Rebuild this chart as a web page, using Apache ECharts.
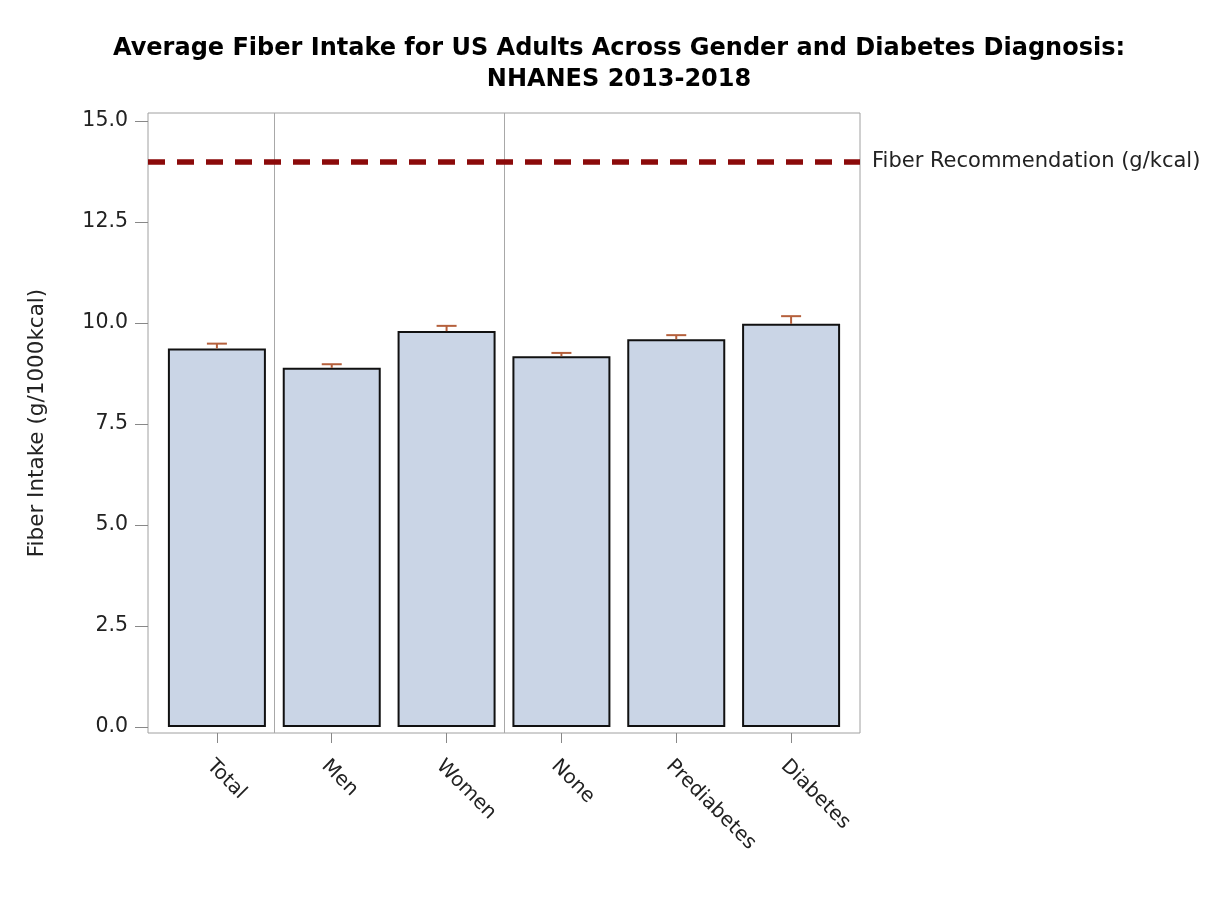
<!DOCTYPE html>
<html>
<head>
<meta charset="utf-8">
<script src="https://cdn.jsdelivr.net/npm/echarts@6/dist/echarts.min.js"></script>
<style>
html,body{margin:0;padding:0;background:#fff;}
#chart{width:1225px;height:923px;}
</style>
</head>
<body>
<div id="chart"></div>
<script>
const categories = ['Total', 'Men', 'Women', 'None', 'Prediabetes', 'Diabetes'];
const meanIntake = [9.37, 8.89, 9.80, 9.18, 9.60, 9.98];
const upperLimit = [9.49, 8.98, 9.93, 9.26, 9.70, 10.17];
const recommendation = 14;
const groupSeparators = [0.5, 2.5];
const yTickValues = [0, 2.5, 5, 7.5, 10, 12.5, 15];
const xTickValues = [0, 1, 2, 3, 4, 5];

const FONT = "'DejaVu Sans', sans-serif";
const chart = echarts.init(document.getElementById('chart'), null, {renderer: 'canvas'});

const barData = categories.map((c, i) => [i, meanIntake[i]]);
const errData = categories.map((c, i) => [i, meanIntake[i], upperLimit[i]]);

const option = {
  backgroundColor: '#ffffff',
  animation: false,
  textStyle: {fontFamily: FONT},
  title: {
    text: 'Average Fiber Intake for US Adults Across Gender and Diabetes Diagnosis:\nNHANES 2013-2018',
    left: 619,
    textAlign: 'center',
    top: 33,
    padding: 0,
    textStyle: {fontFamily: FONT, fontSize: 24, fontWeight: 'bold', color: '#000', lineHeight: 31}
  },
  grid: {
    left: 148, right: 365, top: 113, bottom: 190,
    show: true, borderColor: '#a0a0a0', borderWidth: 1, backgroundColor: 'transparent',
    containLabel: false
  },
  xAxis: {
    type: 'value',
    min: -0.6, max: 5.6,
    axisLine: {show: false, onZero: false},
    splitLine: {show: false},
    axisTick: {show: true, customValues: xTickValues, length: 10, lineStyle: {color: '#888'}},
    axisLabel: {
      customValues: xTickValues,
      rotate: -45,
      margin: 23,
      verticalAlign: 'top',
      fontFamily: FONT, fontSize: 20, color: '#222',
      formatter: v => categories[Math.round(v)]
    }
  },
  yAxis: {
    type: 'value',
    min: -0.15, max: 15.2,
    name: 'Fiber Intake (g/1000kcal)',
    nameLocation: 'middle',
    nameGap: 100,
    nameRotate: 90,
    nameTextStyle: {fontFamily: FONT, fontSize: 21.5, color: '#222'},
    axisLine: {show: false, onZero: false},
    splitLine: {show: false},
    axisTick: {show: true, customValues: yTickValues, length: 13, lineStyle: {color: '#888'}},
    axisLabel: {
      customValues: yTickValues,
      margin: 20,
      fontFamily: FONT, fontSize: 20.5, color: '#222',
      formatter: v => Number(v).toFixed(1)
    }
  },
  series: [
    {
      type: 'bar',
      data: barData,
      barWidth: 98,
      itemStyle: {color: '#cad5e6', borderColor: '#111', borderWidth: 2},
      markLine: {
        silent: true,
        symbol: ['none', 'none'],
        animation: false,
        data: [
          ...groupSeparators.map(s => ({
            xAxis: s,
            lineStyle: {color: '#a8a8a8', width: 1, type: 'solid'},
            label: {show: false}
          })),
          {
            yAxis: recommendation,
            lineStyle: {color: '#8b0a0a', width: 5.5, type: [17, 12]},
            label: {
              show: true, position: 'end', distance: 12,
              formatter: 'Fiber Recommendation (g/kcal)',
              fontFamily: FONT, fontSize: 21, color: '#222'
            }
          }
        ]
      },
      z: 2
    },
    {
      type: 'custom',
      data: errData,
      z: 3,
      renderItem: function (params, api) {
        const x = api.value(0);
        const top = api.coord([x, api.value(2)]);
        const base = api.coord([x, api.value(1)]);
        const half = 10;
        const st = {stroke: '#b5603c', lineWidth: 2, fill: null};
        return {
          type: 'group',
          children: [
            {type: 'line', shape: {x1: top[0], y1: base[1], x2: top[0], y2: top[1]}, style: st},
            {type: 'line', shape: {x1: top[0] - half, y1: top[1], x2: top[0] + half, y2: top[1]}, style: st}
          ]
        };
      }
    }
  ]
};
chart.setOption(option);
</script>
</body>
</html>
